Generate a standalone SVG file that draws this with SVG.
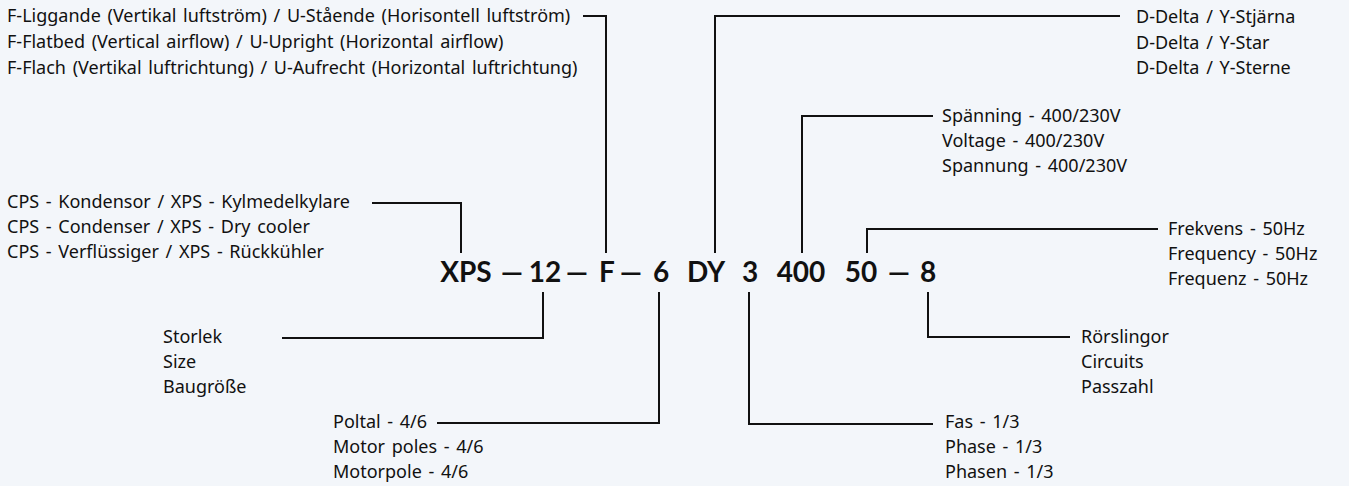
<svg xmlns="http://www.w3.org/2000/svg" width="1349" height="486" viewBox="0 0 1349 486">
<style>
.t{font-family:"Noto Sans",Lato,sans-serif;font-size:18px;word-spacing:2px;fill:#111}
.m{font-family:Lato,"Noto Sans",sans-serif;font-size:28px;font-weight:bold;fill:#111;text-anchor:middle}
.c{fill:none;stroke:#111;stroke-width:2}
</style>
<rect width="1349" height="486" fill="#f3f6fa"/>
<g id="connectors">
<polyline class="c" points="372,203 461,203 461,253"/>
<polyline class="c" points="583,16 606,16 606,253"/>
<polyline class="c" points="715,253 715,16 1120,16"/>
<polyline class="c" points="802,253 802,116 933,116"/>
<polyline class="c" points="867,253 867,229 1158,229"/>
<polyline class="c" points="543,292 543,338 282,338"/>
<polyline class="c" points="659,292 659,423 437,423"/>
<polyline class="c" points="749,292 749,424 933,424"/>
<polyline class="c" points="928,292 928,337 1070,337"/>
</g>
<g id="code"><text class="m" x="466" y="282">XPS</text><text class="m" x="512" y="282">—</text><text class="m" x="545" y="282">12</text><text class="m" x="577" y="282">—</text><text class="m" x="607" y="282">F</text><text class="m" x="631" y="282">—</text><text class="m" x="661" y="282">6</text><text class="m" x="706" y="282">DY</text><text class="m" x="750" y="282">3</text><text class="m" x="801" y="282">400</text><text class="m" x="861" y="282">50</text><text class="m" x="899" y="282">—</text><text class="m" x="928" y="282">8</text></g>
<g id="type"><text class="t" x="7" y="208">CPS - Kondensor / XPS - Kylmedelkylare</text><text class="t" x="7" y="233">CPS - Condenser / XPS - Dry cooler</text><text class="t" x="7" y="258">CPS - Verflüssiger / XPS - Rückkühler</text></g>
<g id="airflow"><text class="t" x="7" y="22">F-Liggande (Vertikal luftström) / U-Stående (Horisontell luftström)</text><text class="t" x="7" y="48">F-Flatbed (Vertical airflow) / U-Upright (Horizontal airflow)</text><text class="t" x="7" y="74">F-Flach (Vertikal luftrichtung) / U-Aufrecht (Horizontal luftrichtung)</text></g>
<g id="connection"><text class="t" x="1136" y="23">D-Delta / Y-Stjärna</text><text class="t" x="1136" y="49">D-Delta / Y-Star</text><text class="t" x="1136" y="74">D-Delta / Y-Sterne</text></g>
<g id="voltage"><text class="t" x="942" y="122">Spänning - 400/230V</text><text class="t" x="942" y="147">Voltage - 400/230V</text><text class="t" x="942" y="172">Spannung - 400/230V</text></g>
<g id="frequency"><text class="t" x="1168" y="235">Frekvens - 50Hz</text><text class="t" x="1168" y="260">Frequency - 50Hz</text><text class="t" x="1168" y="285">Frequenz - 50Hz</text></g>
<g id="size"><text class="t" x="163" y="343">Storlek</text><text class="t" x="163" y="368">Size</text><text class="t" x="163" y="393">Baugröße</text></g>
<g id="circuits"><text class="t" x="1081" y="343">Rörslingor</text><text class="t" x="1081" y="368">Circuits</text><text class="t" x="1081" y="393">Passzahl</text></g>
<g id="poles"><text class="t" x="333" y="428">Poltal - 4/6</text><text class="t" x="333" y="453">Motor poles - 4/6</text><text class="t" x="333" y="478">Motorpole - 4/6</text></g>
<g id="phase"><text class="t" x="945" y="428">Fas - 1/3</text><text class="t" x="945" y="453">Phase - 1/3</text><text class="t" x="945" y="478">Phasen - 1/3</text></g>
</svg>
